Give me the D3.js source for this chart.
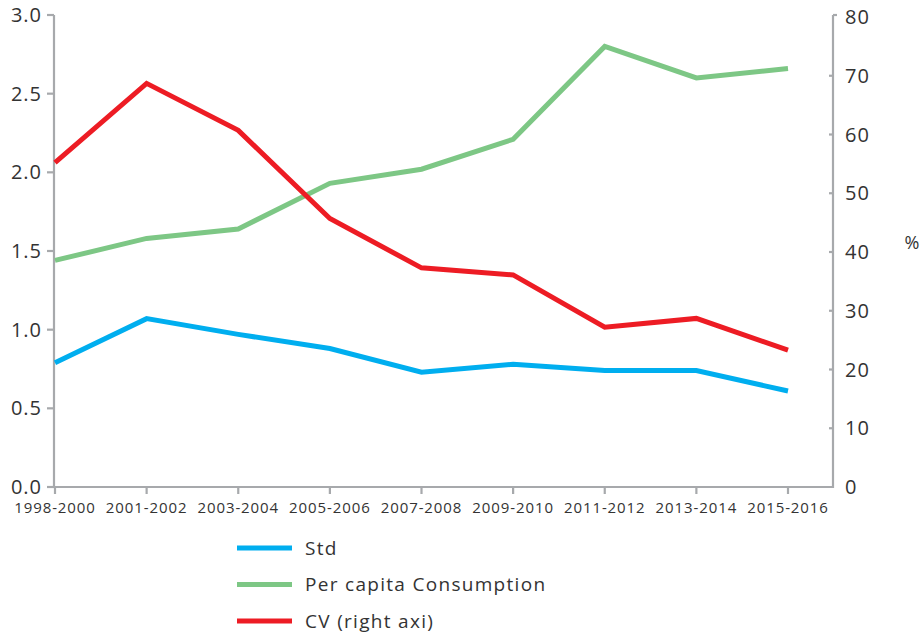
<!DOCTYPE html>
<html>
<head>
<meta charset="utf-8">
<script src="https://cdn.jsdelivr.net/npm/d3@7"></script>
<style>
    body { margin: 0; background: #fff; }
    svg { font-family: "Open Sans", sans-serif; }
</style>
</head>
<body>
<svg width="922" height="634"></svg>
<script>
// data
const periods = ['1998-2000', '2001-2002', '2003-2004', '2005-2006', '2007-2008',
    '2009-2010', '2011-2012', '2013-2014', '2015-2016'];
const std = [0.79, 1.07, 0.97, 0.88, 0.73, 0.78, 0.74, 0.74, 0.61];
const perCapita = [1.44, 1.58, 1.64, 1.93, 2.02, 2.21, 2.80, 2.60, 2.66];
const cv = [55.2, 68.7, 60.7, 45.7, 37.3, 36.1, 27.2, 28.7, 23.3];
const leftTicks = [0, 0.5, 1, 1.5, 2, 2.5, 3];
const rightTicks = [0, 10, 20, 30, 40, 50, 60, 70, 80];

const series = [
    {name: 'Std', values: std, axis: 'left', color: '#00aeef'},
    {name: 'Per capita Consumption', values: perCapita, axis: 'left', color: '#7dc785'},
    {name: 'CV (right axi)', values: cv, axis: 'right', color: '#ed1c24'}
];

const LEFT_X = 54, RIGHT_X = 833, TOP = 15, BOTTOM = 487;
const AXIS = '#a7a9ac', TEXT = '#333';

const svg = d3.select('svg');

const x = d3.scalePoint().domain(periods).range([LEFT_X + 1, 788]);
const yL = d3.scaleLinear().domain([0, 3]).range([BOTTOM, TOP]);
const yR = d3.scaleLinear().domain([0, 80]).range([BOTTOM, 17]);

// Оси
const ax = svg.append('g').attr('stroke', AXIS).attr('stroke-width', 2.2);
ax.append('line').attr('x1', LEFT_X).attr('y1', TOP).attr('x2', LEFT_X).attr('y2', BOTTOM + 1);
ax.append('line').attr('x1', LEFT_X).attr('y1', BOTTOM).attr('x2', RIGHT_X).attr('y2', BOTTOM);
ax.append('line').attr('x1', RIGHT_X).attr('y1', TOP).attr('x2', RIGHT_X).attr('y2', BOTTOM + 1);
ax.append('line').attr('x1', RIGHT_X).attr('y1', TOP).attr('x2', RIGHT_X + 4).attr('y2', TOP);

leftTicks.forEach(function (t) {
    ax.append('line').attr('x1', LEFT_X - 7).attr('y1', yL(t)).attr('x2', LEFT_X).attr('y2', yL(t));
    svg.append('text')
        .attr('x', 42).attr('y', yL(t)).attr('dy', '0.35em')
        .attr('text-anchor', 'end').attr('font-size', 20).attr('fill', TEXT)
        .attr('letter-spacing', 1)
        .text(d3.format('.1f')(t));
});

rightTicks.forEach(function (t) {
    if (t > 0 && t < 80) {
        ax.append('line').attr('x1', RIGHT_X - 4).attr('y1', yR(t)).attr('x2', RIGHT_X).attr('y2', yR(t));
    }
    svg.append('text')
        .attr('x', 845).attr('y', yR(t)).attr('dy', '0.35em')
        .attr('font-size', 20).attr('fill', TEXT)
        .attr('letter-spacing', 1)
        .text(t);
});

periods.forEach(function (p) {
    ax.append('line').attr('x1', x(p)).attr('y1', BOTTOM).attr('x2', x(p)).attr('y2', BOTTOM + 7);
    svg.append('text')
        .attr('x', x(p)).attr('y', 508).attr('dy', '0.35em')
        .attr('text-anchor', 'middle').attr('font-size', 15).attr('fill', TEXT)
        .attr('letter-spacing', 0.9)
        .text(p);
});

svg.append('text')
    .attr('x', 912).attr('y', 243).attr('dy', '0.35em')
    .attr('text-anchor', 'middle').attr('font-size', 18).attr('fill', TEXT)
    .text('%');

// Линии
series.forEach(function (s) {
    const y = s.axis === 'left' ? yL : yR;
    const line = d3.line()
        .x((d, i) => x(periods[i]))
        .y(d => y(d));
    svg.append('path')
        .attr('d', line(s.values))
        .attr('fill', 'none')
        .attr('stroke', s.color)
        .attr('stroke-width', 5);
});

// Легенда
series.forEach(function (s, i) {
    const ly = 548 + i * 36.5;
    svg.append('line')
        .attr('x1', 237).attr('y1', ly).attr('x2', 292).attr('y2', ly)
        .attr('stroke', s.color).attr('stroke-width', 5);
    svg.append('text')
        .attr('x', 305).attr('y', ly).attr('dy', '0.35em')
        .attr('font-size', 19).attr('fill', TEXT)
        .attr('letter-spacing', 1.3)
        .text(s.name);
});
</script>
</body>
</html>
